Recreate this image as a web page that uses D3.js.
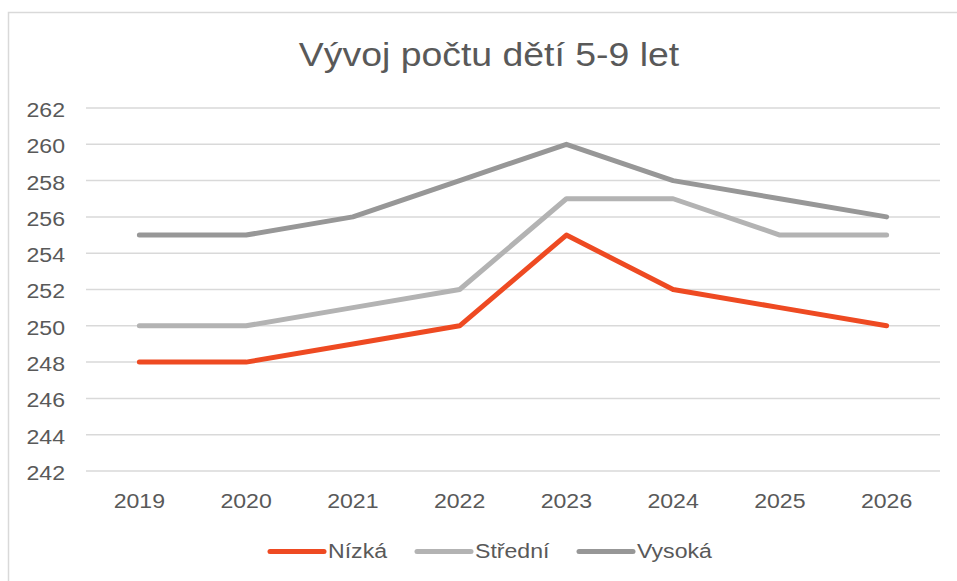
<!DOCTYPE html>
<html>
<head>
<meta charset="utf-8">
<script src="https://cdn.jsdelivr.net/npm/d3@7"></script>
<style>
  body { margin: 0; background: #fff; }
  text { font-family: "Liberation Sans", Arial, sans-serif; fill: #595959; }
</style>
</head>
<body>
<div id="container"></div>
<script>
// data
var years = ["2019", "2020", "2021", "2022", "2023", "2024", "2025", "2026"];
var nizka = [248, 248, 249, 250, 255, 252, 251, 250];
var stredni = [250, 250, 251, 252, 257, 257, 255, 255];
var vysoka = [255, 255, 256, 258, 260, 258, 257, 256];
var yTicks = [242, 244, 246, 248, 250, 252, 254, 256, 258, 260, 262];
var seriesNames = ["Nízká", "Střední", "Vysoká"];

var width = 957, height = 581;
var colors = ["#ee4a22", "#b3b3b3", "#979797"];
var stretch = "scale(1.1,1)"; // the original text is a bit wider than Arial

var svg = d3.select("#container").append("svg")
    .attr("width", width)
    .attr("height", height);

// chart border
svg.append("rect")
    .attr("x", 8.5).attr("y", 12.5)
    .attr("width", 960).attr("height", 580)
    .attr("fill", "none")
    .attr("stroke", "#d9d9d9")
    .attr("stroke-width", 1.5);

var x = d3.scaleBand().domain(years).range([86, 940]);
var y = d3.scaleLinear().domain([242, 262]).range([471, 108]);

// gridlines
svg.append("g")
    .selectAll("line")
    .data(yTicks)
    .enter().append("line")
    .attr("x1", 86).attr("x2", 940)
    .attr("y1", function(d) { return y(d); })
    .attr("y2", function(d) { return y(d); })
    .attr("stroke", "#d9d9d9")
    .attr("stroke-width", 1.5);

// y axis labels
var yAxis = d3.axisLeft(y).tickValues(yTicks).tickSize(0).tickPadding(0);
var gy = svg.append("g").attr("transform", "translate(65,0)").call(yAxis);
gy.select(".domain").remove();
gy.selectAll("text")
    .attr("font-size", "21px")
    .attr("dy", "0.4em")
    .attr("transform", stretch)
    .style("font-family", "Liberation Sans, Arial, sans-serif")
    .attr("fill", "#595959");

// x axis labels
var xAxis = d3.axisBottom(x).tickSize(0).tickPadding(0);
var gx = svg.append("g").attr("transform", "translate(0,508)").call(xAxis);
gx.select(".domain").remove();
gx.selectAll("text")
    .attr("font-size", "21px")
    .attr("dy", "0")
    .attr("transform", stretch)
    .style("font-family", "Liberation Sans, Arial, sans-serif")
    .attr("fill", "#595959");

// lines
var line = d3.line()
    .x(function(d, i) { return x(years[i]) + x.bandwidth() / 2; })
    .y(function(d) { return y(d); });

var allSeries = [nizka, stredni, vysoka];
// draw Vysoka first so red is on top
[2, 1, 0].forEach(function(k) {
    svg.append("path")
        .datum(allSeries[k])
        .attr("d", line)
        .attr("fill", "none")
        .attr("stroke", colors[k])
        .attr("stroke-width", 5)
        .attr("stroke-linejoin", "round")
        .attr("stroke-linecap", "round");
});

// title
svg.append("text")
    .attr("transform", "translate(489,66) " + stretch)
    .attr("text-anchor", "middle")
    .attr("font-size", "34px")
    .text("Vývoj počtu dětí 5-9 let");

// legend
var legendX = [270, 417, 579];
var leg = svg.append("g");
seriesNames.forEach(function(name, i) {
    leg.append("line")
        .attr("x1", legendX[i]).attr("x2", legendX[i] + 54)
        .attr("y1", 551.5).attr("y2", 551.5)
        .attr("stroke", colors[i])
        .attr("stroke-width", 5)
        .attr("stroke-linecap", "round");
    leg.append("text")
        .attr("transform", "translate(" + (legendX[i] + 58) + ",558) " + stretch)
        .attr("font-size", "21px")
        .text(name);
});
</script>
</body>
</html>
